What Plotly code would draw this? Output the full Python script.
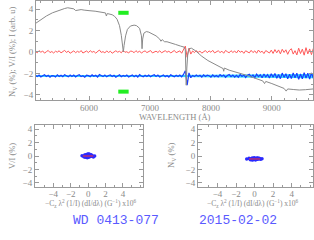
import numpy as np
import plotly.graph_objects as go

# ---------------- data ----------------
# intensity spectrum (arbitrary units)
I_WAVE = [5120, 5200, 5300, 5400, 5500, 5600, 5650, 5700, 5750, 5780, 5820, 5870, 5920, 5960,
          6000, 6100, 6200, 6270, 6285, 6300, 6380, 6420, 6460, 6500, 6530, 6550, 6563, 6575,
          6600, 6630, 6680, 6740, 6780, 6830, 6860, 6870, 6880, 6900, 6940, 6980, 7020, 7100,
          7160, 7180, 7200, 7240, 7280, 7350, 7420, 7500, 7560, 7580, 7595, 7605, 7620, 7640,
          7680, 7750, 7850, 7950, 8050, 8150, 8200, 8210, 8220, 8300, 8400, 8500, 8600, 8700,
          8800, 8850, 8880, 8900, 9000, 9100, 9150, 9200, 9235, 9260, 9350, 9450, 9550, 9680]
I_FLUX = [2.65, 3.0, 3.35, 3.65, 3.88, 4.05, 4.12, 4.1, 4.02, 3.86, 3.9, 3.95, 3.9, 3.86,
          3.85, 3.8, 3.72, 3.64, 3.35, 3.58, 3.47, 3.32, 3.05, 2.45, 1.55, 0.5, 0.0, 0.6,
          1.5, 2.1, 2.42, 2.5, 2.45, 2.2, 1.5, 0.3, 1.2, 1.75, 1.9, 1.85, 1.75, 1.5,
          1.2, 1.0, 1.15, 0.95, 0.95, 0.85, 0.7, 0.55, 0.45, 0.2, -3.1, -1.5, -0.2, 0.3,
          0.35, 0.1, -0.4, -0.8, -1.1, -1.45, -1.55, -1.8, -1.5, -1.7, -1.85, -2.0, -2.2, -2.4,
          -2.6, -2.7, -2.95, -2.75, -2.95, -3.2, -3.35, -3.4, -3.65, -3.45, -3.5, -3.55, -3.52, -3.45]

# polarisation spectra sampled every 30 A
POL_START, POL_STEP, POL_N = 5120, 30, 153
V_OVER_I = [0.05, -0.08, 0.12, -0.03, 0.09, -0.11, 0.02, 0.14, -0.06, 0.04,
            -0.1, 0.07, -0.02, 0.11, -0.09, 0.03, 0.15, -0.05, 0.08, -0.12,
            0.01, 0.1, -0.07, 0.06, -0.04, 0.13, -0.1, 0.02, 0.09, -0.06,
            0.12, -0.03, 0.05, -0.11, 0.08, 0.18, -0.04, 0.03, -0.09, 0.1,
            -0.05, 0.07, -0.12, 0.04, 0.11, -0.02, 0.06, -0.08, 0.14, -0.03,
            0.02, -0.1, 0.09, 0.05, -0.07, 0.12, -0.04, 0.08, -0.11, 0.03,
            0.1, -0.06, 0.04, 0.13, -0.09, 0.02, 0.07, -0.05, 0.11, -0.08,
            0.05, 0.12, -0.03, 0.08, -0.1, 0.06, 0.14, -0.07, 0.03, 0.1,
            -0.12, 0.2, 0.55, -0.5, 0.35, -0.2, 0.09, -0.06, 0.12, -0.04,
            0.08, -0.11, 0.05, 0.13, -0.07, 0.1, -0.03, 0.15, -0.09, 0.04,
            0.11, -0.06, 0.07, -0.12, 0.14, 0.02, -0.08, 0.12, -0.05, 0.09,
            -0.1, 0.16, -0.03, 0.08, -0.13, 0.11, 0.04, -0.09, 0.15, -0.06,
            0.1, -0.12, 0.18, -0.04, 0.07, -0.15, 0.13, 0.05, -0.1, 0.17,
            -0.14, 0.22, -0.08, 0.19, -0.18, 0.25, -0.05, 0.2, -0.22, 0.15,
            0.3, -0.2, 0.12, -0.28, 0.35, -0.15, 0.26, -0.3, 0.4, -0.18,
            0.28, -0.25, 0.33]
N_V = [0.06, -0.05, 0.1, -0.08, 0.03, 0.12, -0.04, 0.07, -0.1, 0.05,
       0.02, -0.09, 0.11, -0.03, 0.08, -0.06, 0.13, 0.01, -0.07, 0.09,
       -0.04, 0.1, -0.08, 0.05, 0.12, -0.05, 0.03, -0.1, 0.08, 0.04,
       -0.06, 0.11, -0.02, 0.07, -0.09, 0.14, 0.02, -0.05, 0.09, -0.07,
       0.05, 0.1, -0.04, 0.08, -0.1, 0.03, 0.12, -0.06, 0.06, -0.03,
       0.1, -0.08, 0.04, 0.11, -0.05, 0.07, -0.09, 0.13, 0.01, -0.06,
       0.08, -0.04, 0.1, -0.07, 0.05, 0.12, -0.03, 0.09, -0.08, 0.04,
       0.11, -0.05, 0.06, -0.09, 0.13, 0.02, -0.06, 0.08, -0.04, 0.1,
       -0.07, 0.15, 0.5, -0.85, 0.3, -0.15, 0.06, -0.05, 0.1, -0.03,
       0.07, -0.09, 0.12, -0.04, 0.08, 0.03, -0.1, 0.11, -0.05, 0.06,
       -0.08, 0.13, -0.02, 0.09, -0.11, 0.05, 0.14, -0.06, 0.1, -0.09,
       0.07, -0.12, 0.15, -0.03, 0.1, -0.13, 0.08, 0.16, -0.07, 0.11,
       -0.14, 0.18, -0.05, 0.12, -0.16, 0.2, -0.08, 0.14, -0.18, 0.22,
       -0.1, 0.25, -0.2, 0.15, -0.24, 0.28, -0.12, 0.22, -0.26, 0.18,
       -0.22, 0.3, -0.15, 0.26, -0.3, 0.2, -0.25, 0.32, -0.18, 0.27,
       -0.28, 0.3, -0.2]
NV_OFFSET = -2.25
SIG_WAVE = [5120, 6000, 7000, 7600, 8000, 8600, 9000, 9680]
SIG_VAL = [0.09, 0.08, 0.08, 0.1, 0.08, 0.1, 0.14, 0.2]

# region used for the fit (green markers)
FIT_RANGE = [6480, 6650]
FIT_MARK_Y = [3.65, -3.7]

# regression panels: x = -Cz lambda^2 (1/I)(dI/dlambda) x1e6
REG_V_X = [-0.7, -0.5, -0.4, -0.3, -0.25, -0.2, -0.15, -0.1, -0.05, 0.0, 0.05, 0.1, 0.15,
           0.2, 0.25, 0.3, 0.4, 0.5, 0.6, 0.75, -0.35, 0.35, -0.1, 0.12, 0.02, -0.02]
REG_V_Y = [0.05, -0.1, 0.15, 0.0, 0.2, -0.15, 0.1, 0.25, -0.05, 0.3, -0.2, 0.05, 0.15,
           -0.1, 0.0, 0.1, -0.05, 0.05, -0.15, 0.0, -0.2, 0.2, -0.25, 0.3, 0.1, -0.1]
REG_N_X = [-0.85, -0.6, -0.45, -0.35, -0.25, -0.2, -0.1, -0.05, 0.0, 0.05, 0.1, 0.2, 0.25,
           0.3, 0.4, 0.5, 0.65, 0.8, -0.3, 0.35, -0.15, 0.15, 0.0, -0.5, 0.55]
REG_N_Y = [-0.45, -0.35, -0.55, -0.4, -0.3, -0.6, -0.45, -0.25, -0.5, -0.35, -0.6, -0.4, -0.3,
           -0.5, -0.45, -0.35, -0.5, -0.42, -0.55, -0.3, -0.4, -0.5, -0.4, -0.45, -0.42]
FIT_V = [0.0, 0.0]
FIT_N = [-0.44, -0.44]
FIT_X = [-0.6, 0.6]

STAR = "WD 0413-077"
DATE = "2015-02-02"

# ---------------- figure ----------------
pol_wave = POL_START + POL_STEP * np.arange(POL_N)
nv_plot = np.array(N_V) + NV_OFFSET
sig = np.interp(pol_wave, SIG_WAVE, SIG_VAL)

fig = go.Figure()

# error band of N_V (cyan)
fig.add_trace(go.Scatter(x=np.concatenate([pol_wave, pol_wave[::-1]]),
                         y=np.concatenate([NV_OFFSET - sig, (NV_OFFSET + sig)[::-1]]),
                         fill="toself", fillcolor="#33ddff", line=dict(width=0),
                         mode="lines", hoverinfo="skip", xaxis="x", yaxis="y"))
fig.add_trace(go.Scatter(x=pol_wave, y=nv_plot, mode="lines",
                         line=dict(color="#1a3cff", width=1.2), xaxis="x", yaxis="y"))
fig.add_trace(go.Scatter(x=pol_wave, y=V_OVER_I, mode="lines",
                         line=dict(color="#ff5a5a", width=1), xaxis="x", yaxis="y"))
fig.add_trace(go.Scatter(x=I_WAVE, y=I_FLUX, mode="lines",
                         line=dict(color="#8a8a8a", width=1), xaxis="x", yaxis="y"))
for gy in FIT_MARK_Y:
    fig.add_trace(go.Scatter(x=FIT_RANGE, y=[gy, gy], mode="lines",
                             line=dict(color="#22ee22", width=4), xaxis="x", yaxis="y"))

# regression panels
fig.add_trace(go.Scatter(x=REG_V_X, y=REG_V_Y, mode="markers",
                         marker=dict(color="#2a2aff", size=3.5, line=dict(width=0)),
                         error_y=dict(type="constant", value=0.15, color="#9a9aff",
                                      thickness=1, width=0),
                         xaxis="x2", yaxis="y2"))
fig.add_trace(go.Scatter(x=FIT_X, y=FIT_V, mode="lines", line=dict(color="#ff3030", width=1),
                         xaxis="x2", yaxis="y2"))
fig.add_trace(go.Scatter(x=REG_N_X, y=REG_N_Y, mode="markers",
                         marker=dict(color="#2a2aff", size=3.5, line=dict(width=0)),
                         error_y=dict(type="constant", value=0.15, color="#9a9aff",
                                      thickness=1, width=0),
                         xaxis="x3", yaxis="y3"))
fig.add_trace(go.Scatter(x=FIT_X, y=FIT_N, mode="lines", line=dict(color="#ff3030", width=1),
                         xaxis="x3", yaxis="y3"))

W, H = 314, 240
def px(x):
    return x / W
def py(y):
    return 1 - y / H

AX_COL = "#9a9a9a"
TICK_FONT = dict(family="Liberation Serif", size=9, color="#8a8a8a")
common = dict(showgrid=False, zeroline=False, showline=True, linecolor=AX_COL, linewidth=1,
              mirror="allticks", ticks="inside", ticklen=4, tickcolor=AX_COL,
              tickfont=TICK_FONT, automargin=False)
minor_c = dict(ticks="inside", ticklen=2, tickcolor=AX_COL)

fig.update_layout(
    width=W, height=H, margin=dict(l=0, r=0, t=0, b=0),
    paper_bgcolor="white", plot_bgcolor="white", showlegend=False,
    xaxis=dict(domain=[px(36), px(313)], range=[5130, 9675], anchor="y",
               dtick=1000, tick0=6000, ticklabelstandoff=-1,
               minor=dict(dtick=200, **minor_c), **common),
    yaxis=dict(domain=[py(100), py(1)], range=[-4.48, 4.75], anchor="x",
               dtick=2, tick0=0, minor=dict(dtick=1, **minor_c), **common),
    xaxis2=dict(domain=[px(35), px(143)], range=[-6.1, 6.3], anchor="y2",
                tickvals=[-4, -2, 0, 2, 4], ticklabelstandoff=-2,
                minor=dict(dtick=1, **minor_c), **common),
    yaxis2=dict(domain=[py(187), py(125)], range=[-4.6, 4.6], anchor="x2",
                tickvals=[-4, -2, 0, 2, 4], minor=dict(dtick=1, **minor_c), **common),
    xaxis3=dict(domain=[px(198), px(313)], range=[-6.1, 6.3], anchor="y3",
                tickvals=[-4, -2, 0, 2, 4], ticklabelstandoff=-2,
                minor=dict(dtick=1, **minor_c), **common),
    yaxis3=dict(domain=[py(187), py(125)], range=[-4.6, 4.6], anchor="x3",
                tickvals=[-4, -2, 0, 2, 4], minor=dict(dtick=1, **minor_c), **common),
)

LAB_FONT = dict(family="Liberation Serif", size=8.5, color="#8a8a8a")
SMALL_FONT = dict(family="Liberation Serif", size=7.5, color="#8a8a8a")
xlab = "\u2212C<sub>z</sub> \u03bb<sup>2</sup> (1/I) (dI/d\u03bb) (G<sup>\u22121</sup>) x10<sup>6</sup>"
ann = [
    dict(x=px(175), y=py(117.5), text="WAVELENGTH (\u00c5)", font=LAB_FONT),
    dict(x=px(12), y=py(52), text="N<sub>V</sub> (%); V/I (%); I (arb. u)", textangle=-90,
         font=LAB_FONT),
    dict(x=px(91), y=py(203.5), text=xlab, font=SMALL_FONT),
    dict(x=px(253), y=py(203.5), text=xlab, font=SMALL_FONT),
    dict(x=px(12), y=py(156), text="V/I (%)", textangle=-90, font=LAB_FONT),
    dict(x=px(171), y=py(156), text="N<sub>V</sub> (%)", textangle=-90, font=LAB_FONT),
]
for a in ann:
    fig.add_annotation(xref="paper", yref="paper", showarrow=False,
                       xanchor="center", yanchor="middle", **a)
for txt, xc in [(STAR, 116), (DATE, 238)]:
    fig.add_annotation(xref="paper", yref="paper", x=px(xc), y=py(220), text=txt,
                       showarrow=False, xanchor="center", yanchor="middle",
                       font=dict(family="Liberation Mono", size=13, color="#5a5aff"))

fig.write_html("out.html", config={"displayModeBar": False},
               post_script="document.body.style.margin='0';")
